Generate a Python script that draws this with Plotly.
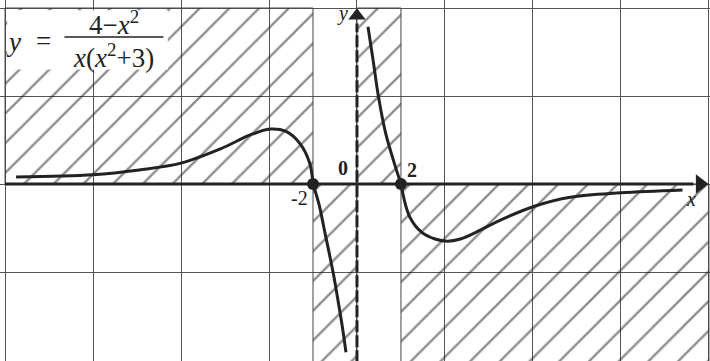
import plotly.graph_objects as go

# curve branches (x, y in plot units)
left_x = [-15.5, -12.0, -9.9, -8.0, -6.2, -4.85, -3.95, -3.25, -2.6, -2.15, -2.0]
left_y = [0.32, 0.42, 0.64, 0.95, 1.6, 2.23, 2.5, 2.4, 1.85, 0.95, 0.0]
midl_x = [-2.0, -1.72, -1.48, -1.25, -1.06, -0.87, -0.68, -0.5]
midl_y = [0.0, -0.95, -2.1, -3.2, -4.15, -5.25, -6.4, -7.65]
midr_x = [0.5, 0.73, 0.98, 1.3, 1.65, 2.0]
midr_y = [7.15, 5.65, 3.95, 2.32, 1.1, 0.0]
right_x = [2.0, 2.4, 2.95, 3.55, 4.1, 4.7, 5.6, 6.5, 8.1, 9.7, 12.0, 14.8]
right_y = [0.0, -1.5, -2.2, -2.5, -2.6, -2.5, -2.1, -1.65, -1.0, -0.6, -0.4, -0.27]

roots_x = [-2, 2]
roots_y = [0, 0]

# hatched sign regions: x0, x1, y0, y1
regions = [(-16, -2, 0, 8), (-2, 0, -8.1, 0), (0, 2, 0, 8), (2, 16, -8.1, 0)]

ink = "#222"
serif = "Liberation Serif"

fig = go.Figure()

for x0, x1, y0, y1 in regions:
    fig.add_trace(go.Scatter(
        x=[x0, x1, x1, x0, x0], y=[y0, y0, y1, y1, y0],
        mode="lines", fill="toself",
        line=dict(color="#444", width=1),
        fillcolor="rgba(0,0,0,0)",
        fillpattern=dict(shape="/", size=21, solidity=0.11,
                         fgcolor="#1a1a1a", bgcolor="rgba(0,0,0,0)"),
        hoverinfo="skip", showlegend=False,
    ))

# axes
fig.add_trace(go.Scatter(x=[-16, 15.3], y=[0, 0], mode="lines",
                         line=dict(color=ink, width=3), showlegend=False))
fig.add_trace(go.Scatter(x=[0, 0], y=[-8.1, 7.3], mode="lines",
                         line=dict(color=ink, width=3, dash="12px,3px"), showlegend=False))
fig.add_trace(go.Scatter(x=[15.6], y=[0], mode="markers",
                         marker=dict(symbol="triangle-right", size=17, color=ink),
                         showlegend=False))
fig.add_trace(go.Scatter(x=[0], y=[7.65], mode="markers",
                         marker=dict(symbol="triangle-up", size=15, color=ink),
                         showlegend=False))

for bx, by in [(left_x, left_y), (midl_x, midl_y), (midr_x, midr_y), (right_x, right_y)]:
    fig.add_trace(go.Scatter(x=bx, y=by, mode="lines", line_shape="spline",
                             line=dict(color=ink, width=3), showlegend=False))

fig.add_trace(go.Scatter(x=roots_x, y=roots_y, mode="markers",
                         marker=dict(size=12, color=ink), showlegend=False))

# white box behind the formula
fig.add_shape(type="rect", xref="x", yref="y", x0=-15.9, x1=-8.6, y0=5.2, y1=7.9,
              fillcolor="white", line_width=0, layer="above")
fig.add_shape(type="line", xref="x", yref="y", x0=-13.3, x1=-8.8, y0=6.68, y1=6.68,
              line=dict(color=ink, width=1.5), layer="above")

f = dict(family=serif, size=27, color=ink)
fig.add_annotation(x=-15.6, y=6.45, text="<i>y</i>", showarrow=False, font=f)
fig.add_annotation(x=-14.25, y=6.5, text="=", showarrow=False, font=f)
fig.add_annotation(x=-11.05, y=7.3, text="4−<i>x</i><sup>2</sup>", showarrow=False, font=f)
fig.add_annotation(x=-11.05, y=5.82, text="<i>x</i>(<i>x</i><sup>2</sup>+3)", showarrow=False, font=f)

g = dict(family=serif, size=20, color=ink)
fig.add_annotation(x=-0.65, y=7.75, text="<i>y</i>", showarrow=False, font=g)
fig.add_annotation(x=15.2, y=-0.7, text="<i>x</i>", showarrow=False, font=g)
fig.add_annotation(x=-0.65, y=0.75, text="<b>0</b>", showarrow=False, font=g)
fig.add_annotation(x=2.5, y=0.65, text="<b>2</b>", showarrow=False, font=g)
fig.add_annotation(x=-2.6, y=-0.65, text="-2", showarrow=False, font=g)

axis = dict(dtick=4, tick0=0, showgrid=True, gridcolor="#555", gridwidth=1,
            zeroline=False, showticklabels=False, ticks="", showline=False)
fig.update_xaxes(range=[-16.23, 16.05], **axis)
fig.update_yaxes(range=[-8.045, 8.364], **axis)

fig.update_layout(width=710, height=361, margin=dict(l=0, r=0, t=0, b=0),
                  plot_bgcolor="white", paper_bgcolor="white")

fig.write_html("out.html", config={"displayModeBar": False},
               post_script="document.body.style.margin='0';")
